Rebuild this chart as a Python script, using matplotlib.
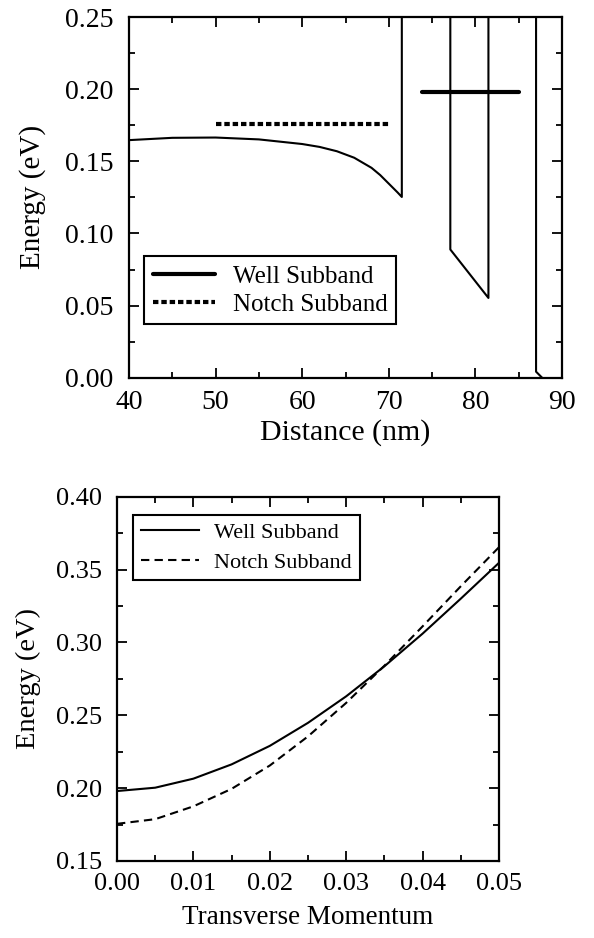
import matplotlib
matplotlib.use("Agg")
import matplotlib.pyplot as plt
from matplotlib.ticker import MultipleLocator, FormatStrFormatter

plt.rcParams['font.family'] = ['Liberation Serif', 'DejaVu Serif']

# ---- Top panel: conduction band profile vs distance ----
band_x = [40, 45, 50, 55, 60, 62, 64, 66, 68, 69, 70, 71, 71.5,
          71.5, 77.1, 77.1, 81.5, 81.5, 87.0, 87.0, 87.7, 88.0]
band_e = [0.1647, 0.1663, 0.1665, 0.1652, 0.1620, 0.1600, 0.1570, 0.1525, 0.1455, 0.1405, 0.1345, 0.1285, 0.1253,
          0.30, 0.30, 0.0889, 0.0553, 0.30, 0.30, 0.0042, 0.0, -0.005]

well_level_x = [73.85, 85.0]
well_level_e = [0.198, 0.198]
notch_level_x = [50.0, 70.0]
notch_level_e = [0.1756, 0.1756]

# ---- Bottom panel: subband dispersion ----
k = [0.000, 0.005, 0.010, 0.015, 0.020, 0.025, 0.030, 0.035, 0.040, 0.045, 0.050]
well_E = [0.1980, 0.2003, 0.2065, 0.2163, 0.2290, 0.2448, 0.2630, 0.2836, 0.3060, 0.3300, 0.3546]
notch_E = [0.1755, 0.1787, 0.1875, 0.1995, 0.2155, 0.2355, 0.2585, 0.2840, 0.3110, 0.3385, 0.3653]

fig = plt.figure(figsize=(5.94, 9.38), dpi=100)

def style(ax, size, ypad, xpad):
    for s in ax.spines.values():
        s.set_linewidth(1.6)
    ax.tick_params(which='both', direction='in', top=True, right=True,
                   width=1.3, labelsize=size)
    ax.tick_params(axis='y', which='both', pad=ypad)
    ax.tick_params(axis='x', which='both', pad=xpad)
    ax.tick_params(which='major', length=7)
    ax.tick_params(which='minor', length=4)

# top
ax1 = fig.add_axes([0.2172, 0.5973, 0.729, 0.3845])
ax1.plot(band_x, band_e, color='black', lw=1.5)
ax1.plot(well_level_x, well_level_e, color='black', lw=3.0, solid_capstyle='round',
         label='Well Subband')
ax1.plot(notch_level_x, notch_level_e, color='black', lw=3.0, ls=(0, (1.3, 0.7)),
         label='Notch Subband')
ax1.set_xlim(40, 90)
ax1.set_ylim(0, 0.25)
ax1.xaxis.set_major_locator(MultipleLocator(10))
ax1.xaxis.set_minor_locator(MultipleLocator(5))
ax1.yaxis.set_major_locator(MultipleLocator(0.05))
ax1.yaxis.set_minor_locator(MultipleLocator(0.025))
ax1.yaxis.set_major_formatter(FormatStrFormatter('%.2f'))
style(ax1, 20, 11, 9)
ax1.set_xlabel('Distance (nm)', fontsize=21.5)
ax1.set_ylabel('Energy (eV)', fontsize=21)
ax1.xaxis.set_label_coords(0.5, -0.115)
ax1.yaxis.set_label_coords(-0.192, 0.5)
leg1 = ax1.legend(loc='lower left', bbox_to_anchor=(0.035, 0.148), fontsize=18,
                  frameon=True, fancybox=False, edgecolor='black', framealpha=1,
                  handlelength=2.5, borderpad=0.35, labelspacing=0.22, handletextpad=0.7,
                  borderaxespad=0)
leg1.get_frame().set_linewidth(1.5)

# bottom
ax2 = fig.add_axes([0.197, 0.0821, 0.643, 0.3884])
ax2.plot(k, well_E, color='black', lw=1.5, label='Well Subband')
ax2.plot(k, notch_E, color='black', lw=1.5, ls=(0, (4, 2.5)), label='Notch Subband')
ax2.set_xlim(0, 0.05)
ax2.set_ylim(0.15, 0.40)
ax2.xaxis.set_major_locator(MultipleLocator(0.01))
ax2.xaxis.set_minor_locator(MultipleLocator(0.005))
ax2.yaxis.set_major_locator(MultipleLocator(0.05))
ax2.yaxis.set_minor_locator(MultipleLocator(0.025))
ax2.xaxis.set_major_formatter(FormatStrFormatter('%.2f'))
ax2.yaxis.set_major_formatter(FormatStrFormatter('%.2f'))
style(ax2, 19, 11, 9)
ax2.set_xlabel('Transverse Momentum', fontsize=19.5)
ax2.set_ylabel('Energy (eV)', fontsize=20.5)
ax2.xaxis.set_label_coords(0.5, -0.122)
ax2.yaxis.set_label_coords(-0.2, 0.5)
leg2 = ax2.legend(loc='upper left', bbox_to_anchor=(0.042, 0.95), fontsize=16,
                  frameon=True, fancybox=False, edgecolor='black', framealpha=1,
                  handlelength=2.6, borderpad=0.35, labelspacing=0.4, handletextpad=0.7,
                  borderaxespad=0)
leg2.get_frame().set_linewidth(1.5)

fig.savefig('out.png', dpi=100)
